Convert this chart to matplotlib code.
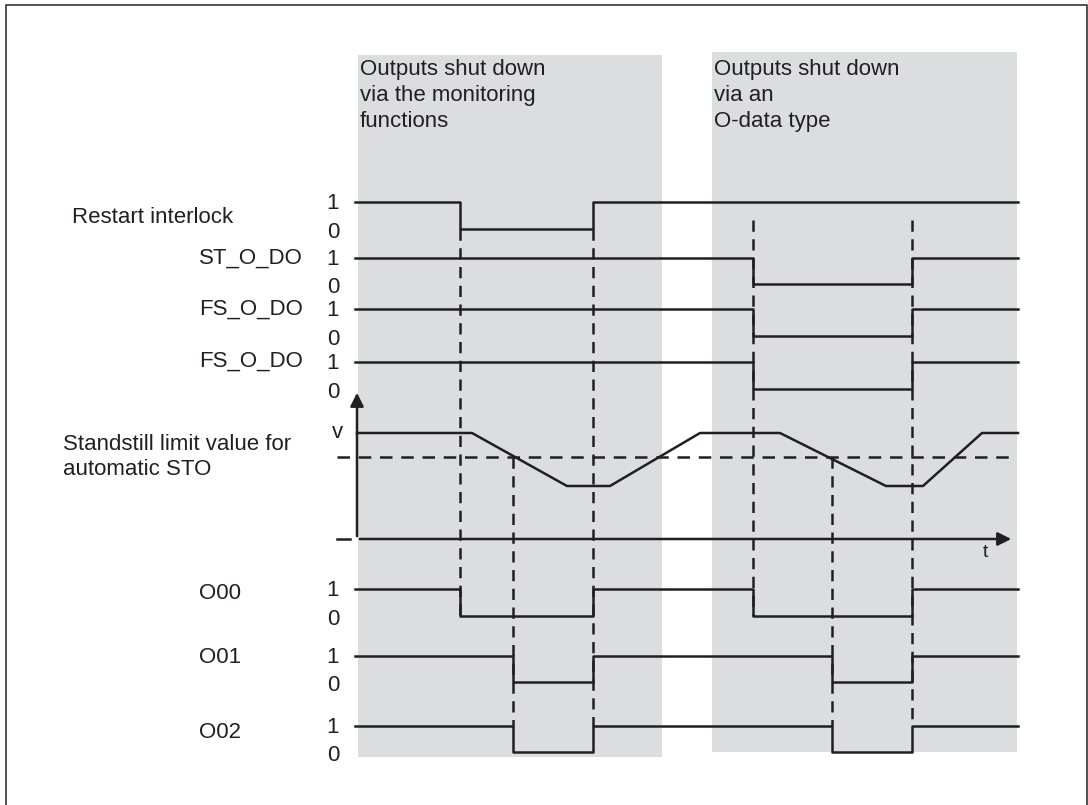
import matplotlib
matplotlib.use('Agg')
import matplotlib.pyplot as plt
from matplotlib.patches import Rectangle

plt.rcParams['font.family'] = ['Liberation Sans', 'DejaVu Sans']

# time span of the diagram (x in pixel-like units)
T0, T1 = 355, 1018

# digital signals: edge times, starting high
restart_edges = [460, 593]
st_o_do_edges = [753, 912]
fs_o_do_edges = [753, 912]
fs_o_do2_edges = [753, 912]
o00_edges = [460, 593, 753, 912]
o01_edges = [513, 593, 832, 912]
o02_edges = [513, 593, 832, 912]

# speed curve (1 = v, 0 = lower level)
speed_t = [357, 472, 567, 610, 700, 780, 886, 923, 982, 1018]
speed_v = [1, 1, 0, 0, 1, 1, 0, 0, 1, 1]
threshold = 0.55

# dashed guide lines: (x, from_y, to_y)
guides = [(460, 229, 616), (593, 229, 726), (513, 457, 726),
          (753, 220, 616), (912, 220, 726), (832, 457, 726)]

INK = '#231f20'
GRAY = '#dcdddf'
FS = 16

fig = plt.figure(figsize=(10.88, 8.05), dpi=100)
ax = fig.add_axes([0, 0, 1, 1])
ax.set_xlim(0, 1088)
ax.set_ylim(805, 0)
ax.axis('off')

# frame
ax.plot([6, 6, 1087, 1087], [805, 5, 5, 805], color='#333333', lw=1.2)

# shaded regions
ax.add_patch(Rectangle((358, 55), 304, 702, color=GRAY, lw=0, zorder=0))
ax.add_patch(Rectangle((712, 52), 305, 700, color=GRAY, lw=0, zorder=0))
ax.text(360, 59, 'Outputs shut down\nvia the monitoring\nfunctions', fontsize=FS,
        va='top', ha='left', color=INK, linespacing=1.3)
ax.text(714, 59, 'Outputs shut down\nvia an\nO-data type', fontsize=FS,
        va='top', ha='left', color=INK, linespacing=1.3)


def draw_signal(edges, y_hi, y_lo):
    xs = [T0] + edges + [T1]
    lv = [(i + 1) % 2 for i in range(len(edges) + 1)]
    lv = lv + [lv[-1]]
    ys = [y_hi if v else y_lo for v in lv]
    ax.plot(xs, ys, drawstyle='steps-post', color=INK, lw=1.8, zorder=3)
    ax.text(333, y_hi + 1, '1', fontsize=FS, ha='center', va='center', color=INK)
    ax.text(333, y_lo + 3, '0', fontsize=FS, ha='center', va='center', color=INK)


rows = [
    (restart_edges, 202, 229),
    (st_o_do_edges, 258, 284),
    (fs_o_do_edges, 309, 336),
    (fs_o_do2_edges, 362, 389),
    (o00_edges, 589, 616),
    (o01_edges, 656, 682),
    (o02_edges, 726, 752),
]
for edges, hi, lo in rows:
    draw_signal(edges, hi, lo)

# signal names
ax.text(72, 217, 'Restart interlock', fontsize=FS, ha='left', va='center', color=INK)
ax.text(303, 258, 'ST_O_DO', fontsize=FS, ha='right', va='center', color=INK)
ax.text(303, 309, 'FS_O_DO', fontsize=FS, ha='right', va='center', color=INK)
ax.text(303, 361, 'FS_O_DO', fontsize=FS, ha='right', va='center', color=INK)
ax.text(63, 457, 'Standstill limit value for\nautomatic STO', fontsize=FS,
        ha='left', va='center', color=INK)
ax.text(241, 593, 'O00', fontsize=FS, ha='right', va='center', color=INK)
ax.text(241, 657, 'O01', fontsize=FS, ha='right', va='center', color=INK)
ax.text(241, 732, 'O02', fontsize=FS, ha='right', va='center', color=INK)

# speed diagram
V_HI, V_LO, BASE = 433, 486, 539
ys = [V_LO + (V_HI - V_LO) * v for v in speed_v]
ax.plot(speed_t, ys, color=INK, lw=1.8, zorder=3)
thr_y = V_LO + (V_HI - V_LO) * threshold
ax.plot([337, 1015], [thr_y, thr_y], color=INK, lw=1.8, ls=(0, (5, 3.5)), zorder=3)
ax.annotate('', xy=(357, 390), xytext=(357, BASE),
            arrowprops=dict(arrowstyle='-|>', color=INK, lw=1.8, mutation_scale=20))
ax.annotate('', xy=(1014, BASE), xytext=(357, BASE),
            arrowprops=dict(arrowstyle='-|>', color=INK, lw=1.8, mutation_scale=20))
ax.plot([337, 350], [BASE, BASE], color=INK, lw=1.8)
ax.text(337, 432, 'v', fontsize=FS, ha='center', va='center', color=INK)
ax.text(985, 552, 't', fontsize=FS - 2, ha='center', va='center', color=INK)

# dashed guide lines
for x, y0, y1 in guides:
    ax.plot([x, x], [y0, y1], color=INK, lw=1.8, ls=(0, (4.5, 3)), zorder=2)

fig.savefig('out.png', dpi=100)
